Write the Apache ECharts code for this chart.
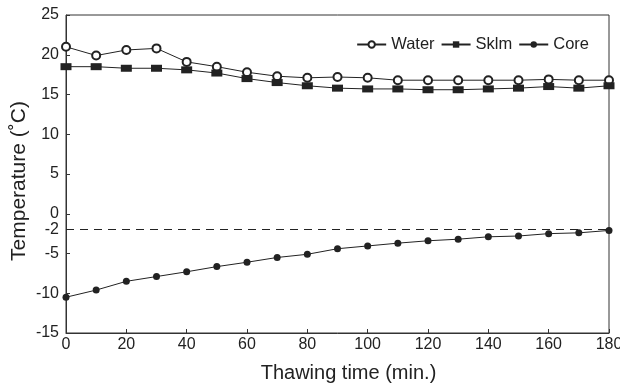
<!DOCTYPE html>
<html><head><meta charset="utf-8">
<script src="https://cdn.jsdelivr.net/npm/echarts@6/dist/echarts.min.js"></script>
<style>html,body{margin:0;padding:0;background:#fff}#c{width:620px;height:387px}</style>
</head><body><div id="c"></div>
<script>
const times = [0,10,20,30,40,50,60,70,80,90,100,110,120,130,140,150,160,170,180];
const water = [21.0,19.9,20.6,20.8,19.1,18.5,17.8,17.3,17.1,17.2,17.1,16.8,16.8,16.8,16.8,16.8,16.9,16.8,16.8];
const sklm  = [18.5,18.5,18.3,18.3,18.1,17.7,17.0,16.5,16.1,15.8,15.7,15.7,15.6,15.6,15.7,15.8,16.0,15.8,16.1];
const core  = [-10.5,-9.6,-8.5,-7.9,-7.3,-6.65,-6.1,-5.5,-5.1,-4.4,-4.05,-3.7,-3.4,-3.2,-2.9,-2.8,-2.5,-2.4,-2.1];
const yTicks = [-15,-10,-5,-2,0,5,10,15,20,25];
const refLine = -2;
const pair = a => times.map((t,i)=>[t,a[i]]);
const font = 'Liberation Sans, Arial, sans-serif';
const ch = echarts.init(document.getElementById('c'));
ch.setOption({
  animation:false,
  textStyle:{fontFamily:font},
  grid:{left:66,right:11,top:15,bottom:54,show:true,borderColor:'#333',borderWidth:1,
    outerBoundsMode:'none',containLabel:false},
  legend:{top:31,right:26,itemGap:6,itemWidth:29,itemHeight:8,
    textStyle:{fontSize:16.5,color:'#222',fontFamily:font},
    data:['Water','Sklm','Core']},
  xAxis:{type:'value',min:0,max:180,interval:20,
    name:'Thawing time (min.)',nameLocation:'middle',nameGap:30,nameMoveOverlap:false,
    nameTextStyle:{fontSize:20,color:'#222',fontFamily:font,padding:[0,0,0,22]},
    axisLine:{onZero:false,lineStyle:{color:'#333'}},
    axisTick:{inside:true,length:4,lineStyle:{color:'#333'}},
    axisLabel:{fontSize:16,color:'#222',margin:4,fontFamily:font},
    splitLine:{show:false}},
  yAxis:{type:'value',min:-15,max:25,interval:5,
    name:'Temperature (˚C)',nameLocation:'middle',nameGap:36,nameMoveOverlap:false,
    nameTextStyle:{fontSize:21,color:'#222',fontFamily:font,padding:[0,14,0,0]},
    axisLine:{show:true,lineStyle:{color:'#333'}},
    axisTick:{inside:true,length:4,lineStyle:{color:'#333'}},
    axisLabel:{fontSize:16,color:'#222',margin:7,padding:[0,0,6,0],fontFamily:font,customValues:yTicks},
    splitLine:{show:false}},
  series:[
    {name:'Water',type:'line',data:pair(water),symbol:'emptyCircle',symbolSize:8,
     itemStyle:{color:'#222',borderColor:'#222',borderWidth:1},lineStyle:{color:'#222',width:1},
     markLine:{silent:true,symbol:'none',label:{show:false},
       lineStyle:{color:'#222',type:[8,6],width:1},data:[{yAxis:refLine}]}},
    {name:'Sklm',type:'line',data:pair(sklm),symbol:'rect',symbolSize:[11,7],
     itemStyle:{color:'#222'},lineStyle:{color:'#222',width:1}},
    {name:'Core',type:'line',data:pair(core),symbol:'circle',symbolSize:7,
     itemStyle:{color:'#222'},lineStyle:{color:'#222',width:1}}
  ]
});
</script></body></html>
